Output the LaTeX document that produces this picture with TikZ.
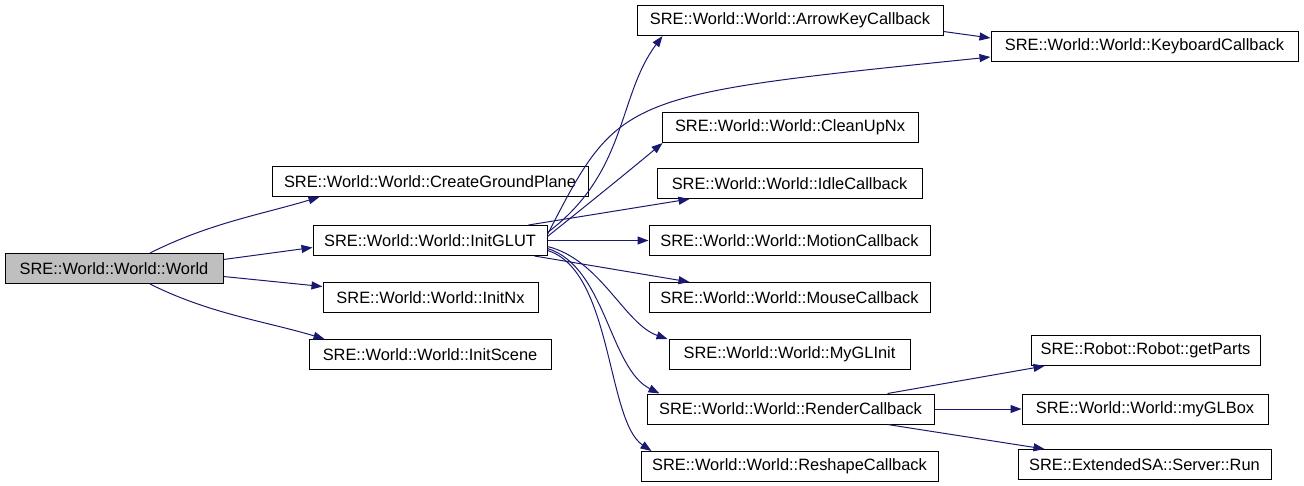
\documentclass[tikz,border=0pt]{standalone}
\usepackage{fontspec}
\setmainfont{Liberation Sans}
\usetikzlibrary{arrows.meta}
\definecolor{callblue}{RGB}{25,25,112}
\definecolor{rootgray}{RGB}{191,191,191}

\begin{document}
\begin{tikzpicture}[x=1pt, y=1pt,
  fn/.style={draw=black, line width=1pt, minimum height=30pt, inner sep=0pt,
    font=\fontsize{16.4}{18}\selectfont},
  root/.style={fn, fill=rootgray},
  call/.style={-{Triangle[length=11pt,width=8pt]}, draw=callblue, line width=1pt}
]
\useasboundingbox (0,0) rectangle (1304,-485);

\node[root, minimum width=218pt] (w) at (114,-268.5) {SRE::World::World::World};

\node[fn, minimum width=316pt] (cgp) at (430,-181.5) {SRE::World::World::CreateGroundPlane};
\node[fn, minimum width=234pt] (ig) at (430,-240.5) {SRE::World::World::InitGLUT};
\node[fn, minimum width=215pt] (inx) at (430.5,-297.5) {SRE::World::World::InitNx};
\node[fn, minimum width=242pt] (isc) at (430,-354.5) {SRE::World::World::InitScene};

\node[fn, minimum width=306pt] (ak) at (790,-20.5) {SRE::World::World::ArrowKeyCallback};
\node[fn, minimum width=256pt] (cun) at (790,-127.5) {SRE::World::World::CleanUpNx};
\node[fn, minimum width=265pt] (idle) at (789.5,-183.5) {SRE::World::World::IdleCallback};
\node[fn, minimum width=281pt] (mot) at (789.5,-240.5) {SRE::World::World::MotionCallback};
\node[fn, minimum width=281pt] (mou) at (789.5,-297.5) {SRE::World::World::MouseCallback};
\node[fn, minimum width=241pt] (mgl) at (789.5,-354.5) {SRE::World::World::MyGLInit};
\node[fn, minimum width=287pt] (rc) at (790.5,-409) {SRE::World::World::RenderCallback};
\node[fn, minimum width=297pt] (rs) at (789.5,-466.5) {SRE::World::World::ReshapeCallback};

\node[fn, minimum width=307pt] (kb) at (1144.5,-46) {SRE::World::World::KeyboardCallback};
\node[fn, minimum width=229pt] (gp) at (1145.5,-350.5) {SRE::Robot::Robot::getParts};
\node[fn, minimum width=246pt] (mgb) at (1145,-409) {SRE::World::World::myGLBox};
\node[fn, minimum width=253pt] (run) at (1144.5,-464.5) {SRE::ExtendedSA::Server::Run};

\draw[call] ([xshift=36pt]w.north) .. controls +(60,30) and +(-60,-18) .. ([xshift=48pt]cgp.south west);
\draw[call] ([yshift=9pt]w.east) -- ([yshift=-7pt]ig.west);
\draw[call] ([yshift=-8pt]w.east) -- ([yshift=11pt]inx.west);
\draw[call] ([xshift=36pt]w.south) .. controls +(60,-30) and +(-60,18) .. ([xshift=16pt]isc.north west);

\draw[call] ([yshift=8pt]ig.east) .. controls +(80,60) and +(-45,-60) .. ([xshift=26pt]ak.south west);
\draw[call] ([yshift=6pt]ig.east) .. controls +(72,140) and +(-371,-38) .. ([yshift=-11pt]kb.west);
\draw[call] ([yshift=-11pt]ak.east) -- ([yshift=8pt]kb.west);
\draw[call] ([yshift=4pt]ig.east) .. controls +(50,40) and +(-30,-25) .. ([xshift=1pt]cun.south west);
\draw[call] ([xshift=-19pt]ig.north east) -- ([xshift=33pt]idle.south west);
\draw[call] (ig) -- (mot);
\draw[call] ([xshift=-13pt]ig.south east) -- ([xshift=41pt]mou.north west);
\draw[call] ([yshift=-6pt]ig.east) .. controls +(53,-13) and +(-43,15) .. ([xshift=-1pt]mgl.north west);
\draw[call] ([yshift=-8pt]ig.east) .. controls +(58,-18) and +(-50,25) .. ([xshift=13pt]rc.north west);
\draw[call] ([yshift=-10pt]ig.east) .. controls +(65,-20) and +(-45,30) .. ([xshift=11pt]rs.north west);

\draw[call] ([xshift=-47pt]rc.north east) -- ([xshift=14pt]gp.south west);
\draw[call] (rc) -- (mgb);
\draw[call] ([xshift=-47pt]rc.south east) -- ([xshift=27pt]run.north west);
\end{tikzpicture}
\end{document}
